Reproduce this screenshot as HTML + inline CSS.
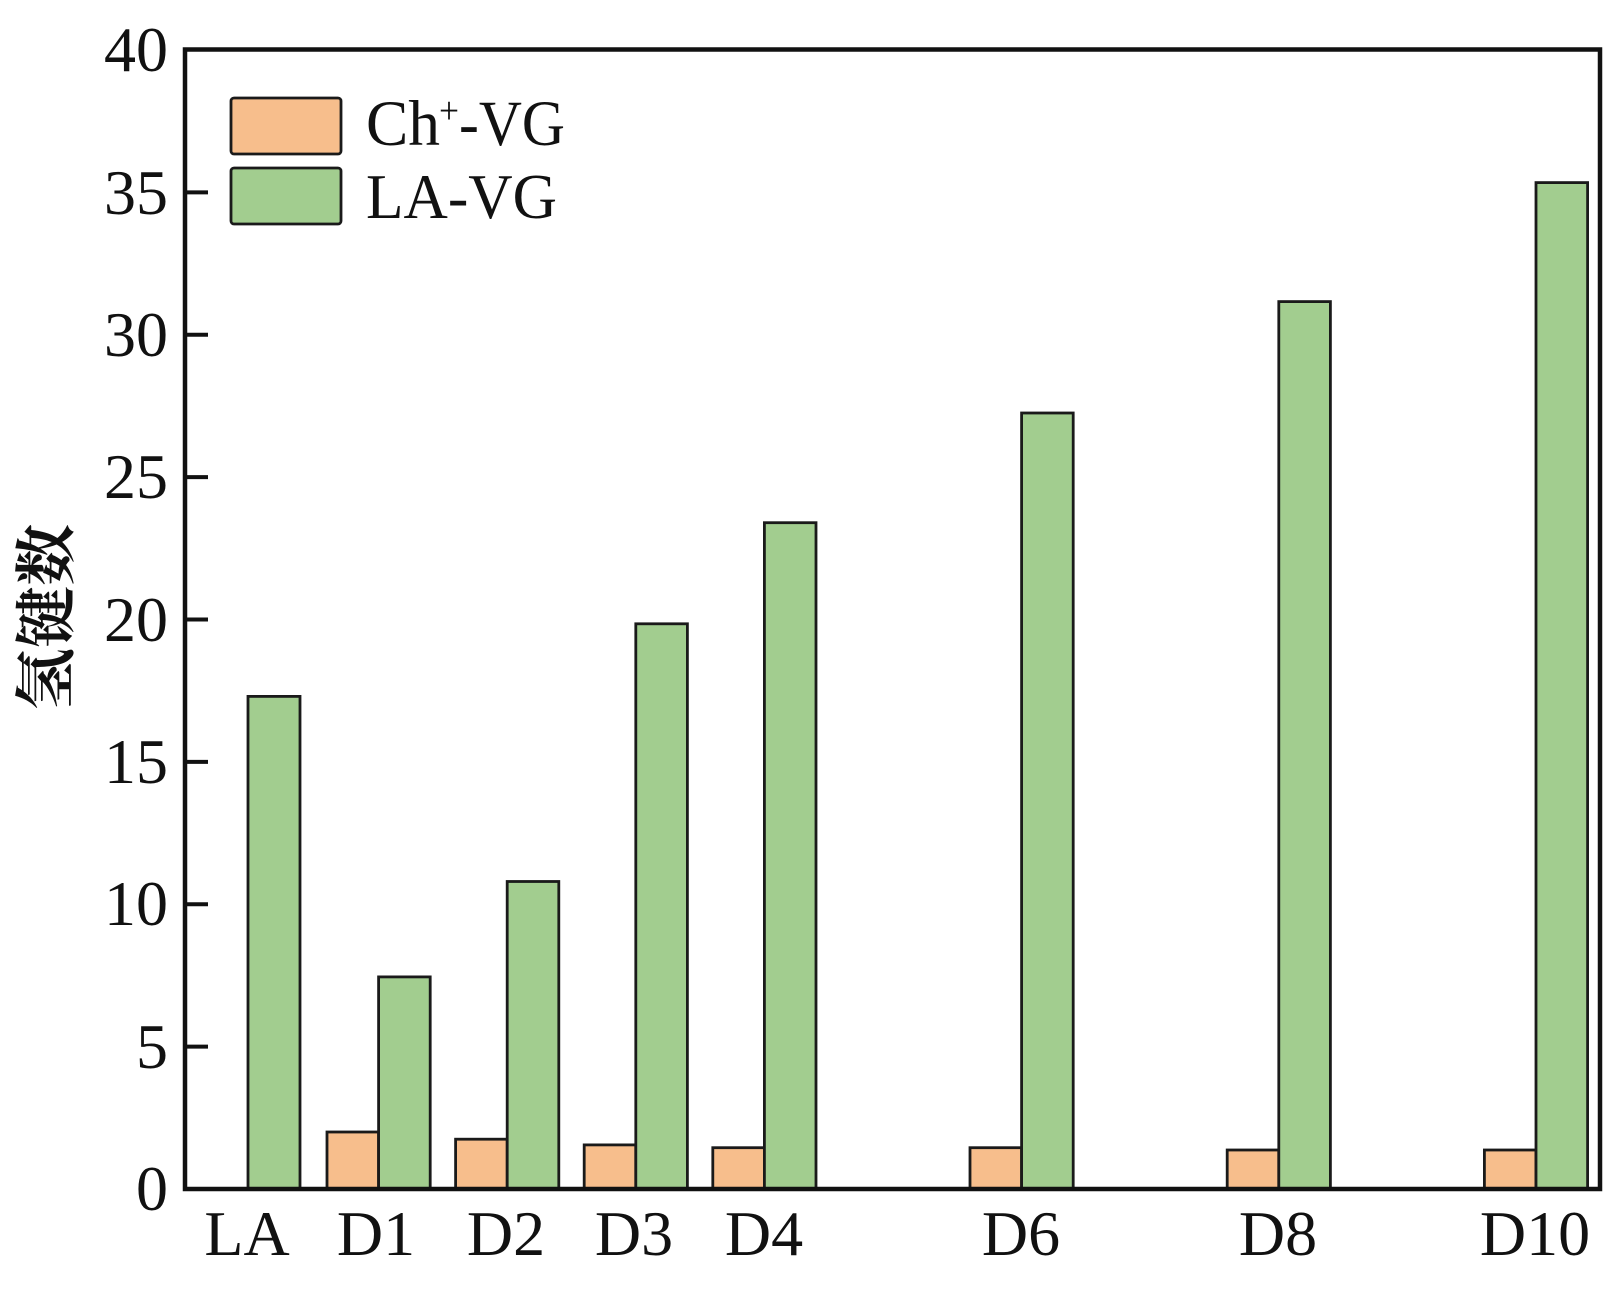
<!DOCTYPE html>
<html>
<head>
<meta charset="utf-8">
<style>
  html, body { margin: 0; padding: 0; background: #ffffff; }
  svg { display: block; }
  .t { font-family: "Liberation Serif", "Times New Roman", serif; fill: #111; }
</style>
</head>
<body>
<svg width="1616" height="1291" viewBox="0 0 1616 1291" xmlns="http://www.w3.org/2000/svg">
  <rect x="0" y="0" width="1616" height="1291" fill="#ffffff"/>

  <!-- Bars: orange (Ch+-VG) and green (LA-VG) -->
  <g stroke="#1a1a1a" stroke-width="2.8">
    <!-- LA -->
    <rect x="248" y="696.4" width="52" height="492.6" fill="#A2CD8F"/>
    <!-- D1 -->
    <rect x="327" y="1132" width="51.6" height="57" fill="#F7BE8C"/>
    <rect x="378.6" y="976.9" width="51.6" height="212.1" fill="#A2CD8F"/>
    <!-- D2 -->
    <rect x="455.6" y="1139.2" width="51.6" height="49.8" fill="#F7BE8C"/>
    <rect x="507.2" y="881.5" width="51.6" height="307.5" fill="#A2CD8F"/>
    <!-- D3 -->
    <rect x="584.2" y="1144.9" width="51.6" height="44.1" fill="#F7BE8C"/>
    <rect x="635.8" y="623.8" width="51.6" height="565.2" fill="#A2CD8F"/>
    <!-- D4 -->
    <rect x="712.8" y="1147.7" width="51.6" height="41.3" fill="#F7BE8C"/>
    <rect x="764.4" y="522.7" width="51.6" height="666.3" fill="#A2CD8F"/>
    <!-- D6 -->
    <rect x="970" y="1147.7" width="51.6" height="41.3" fill="#F7BE8C"/>
    <rect x="1021.6" y="413" width="51.6" height="776" fill="#A2CD8F"/>
    <!-- D8 -->
    <rect x="1227.2" y="1150" width="51.6" height="39" fill="#F7BE8C"/>
    <rect x="1278.8" y="301.6" width="51.6" height="887.4" fill="#A2CD8F"/>
    <!-- D10 -->
    <rect x="1484.4" y="1150" width="51.6" height="39" fill="#F7BE8C"/>
    <rect x="1536" y="182.6" width="51.6" height="1006.4" fill="#A2CD8F"/>
  </g>

  <!-- Axes frame -->
  <rect x="185" y="49.5" width="1415" height="1139.5" fill="none" stroke="#111" stroke-width="4.5"/>

  <!-- Y ticks (inward) -->
  <g stroke="#111" stroke-width="4">
    <line x1="185" y1="1189" x2="208" y2="1189"/>
    <line x1="185" y1="1046.6" x2="208" y2="1046.6"/>
    <line x1="185" y1="904.2" x2="208" y2="904.2"/>
    <line x1="185" y1="761.9" x2="208" y2="761.9"/>
    <line x1="185" y1="619.5" x2="208" y2="619.5"/>
    <line x1="185" y1="477.1" x2="208" y2="477.1"/>
    <line x1="185" y1="334.7" x2="208" y2="334.7"/>
    <line x1="185" y1="192.4" x2="208" y2="192.4"/>
  </g>

  <!-- Y tick labels -->
  <g class="t" font-size="64" text-anchor="end">
    <text x="168" y="1210">0</text>
    <text x="168" y="1068">5</text>
    <text x="168" y="925">10</text>
    <text x="168" y="783">15</text>
    <text x="168" y="641">20</text>
    <text x="168" y="498">25</text>
    <text x="168" y="356">30</text>
    <text x="168" y="214">35</text>
    <text x="168" y="71">40</text>
  </g>

  <!-- X tick labels -->
  <g class="t" font-size="64" text-anchor="middle">
    <text x="247" y="1255">LA</text>
    <text x="376" y="1255">D1</text>
    <text x="506" y="1255">D2</text>
    <text x="634" y="1255">D3</text>
    <text x="764" y="1255">D4</text>
    <text x="1021" y="1255">D6</text>
    <text x="1278" y="1255">D8</text>
    <text x="1535" y="1255">D10</text>
  </g>

  <!-- Y axis label -->
  <text x="0" y="0" transform="translate(68,617) rotate(-90)" text-anchor="middle"
        font-family="'Noto Serif CJK SC', 'Noto Sans CJK SC', serif" font-size="62" font-weight="700" fill="#111">氢键数</text>

  <!-- Legend -->
  <rect x="231" y="98" width="110" height="56" rx="3" ry="3" fill="#F7BE8C" stroke="#1a1a1a" stroke-width="2.8"/>
  <rect x="231" y="168" width="110" height="56" rx="3" ry="3" fill="#A2CD8F" stroke="#1a1a1a" stroke-width="2.8"/>
  <text class="t" x="366" y="145" font-size="65" textLength="74" lengthAdjust="spacingAndGlyphs">Ch</text>
  <text class="t" x="439" y="123" font-size="38" textLength="20" lengthAdjust="spacingAndGlyphs">+</text>
  <text class="t" x="459" y="145" font-size="65" textLength="106" lengthAdjust="spacingAndGlyphs">-VG</text>
  <text class="t" x="366" y="218" font-size="64" textLength="191" lengthAdjust="spacingAndGlyphs">LA-VG</text>
</svg>
</body>
</html>
